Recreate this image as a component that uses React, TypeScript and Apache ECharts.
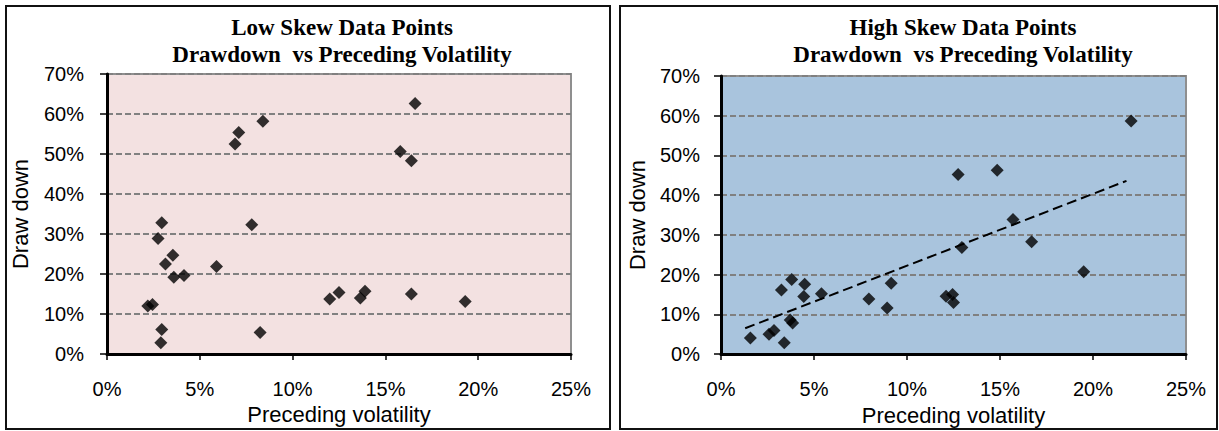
import React, { useEffect, useRef } from "react";
import * as echarts from "echarts";

// Low skew panel: preceding volatility (%) and drawdown (%)
const lowSkewVol = [16.6, 8.4, 7.1, 6.9, 15.8, 16.4, 2.95, 7.8, 2.75, 3.55, 3.15, 5.9, 3.6, 4.15, 2.2, 2.45, 12.0, 12.5, 13.65, 13.9, 16.4, 19.3, 2.95, 2.9, 8.25];
const lowSkewDD = [62.6, 58.2, 55.4, 52.5, 50.6, 48.3, 32.8, 32.3, 28.9, 24.7, 22.5, 21.9, 19.2, 19.6, 12.0, 12.4, 13.75, 15.4, 14.0, 15.7, 15.0, 13.1, 6.1, 2.8, 5.4];

// High skew panel
const highSkewVol = [22.05, 12.75, 14.85, 15.7, 16.7, 12.95, 19.5, 3.8, 3.25, 4.5, 4.45, 5.4, 7.95, 9.15, 8.93, 12.1, 12.45, 12.5, 3.72, 3.85, 1.58, 2.58, 2.85, 3.4];
const highSkewDD = [58.7, 45.2, 46.3, 33.9, 28.3, 26.85, 20.7, 18.75, 16.15, 17.6, 14.5, 15.2, 13.9, 17.85, 11.6, 14.55, 15.0, 13.0, 8.6, 7.8, 4.05, 5.0, 5.95, 2.85];

// Linear trendline endpoints (high skew)
const trendVol = [1.3, 21.8];
const trendDD = [6.5, 43.6];

const titles = [
  "Low Skew Data Points\nDrawdown  vs Preceding Volatility",
  "High Skew Data Points\nDrawdown  vs Preceding Volatility",
];
const xAxisTitle = "Preceding volatility";
const yAxisTitle = "Draw down";

const pct = (v: number) => `${v}%`;

export default function App() {
  const ref = useRef<HTMLDivElement>(null);
  useEffect(() => {
    if (!ref.current) return;
    const chart = echarts.init(ref.current, null, { renderer: "svg" });
    const tickFont = { fontFamily: "Liberation Sans, Arial", fontSize: 20, color: "#000" };
    const nameFont = { fontFamily: "Liberation Sans, Arial", fontSize: 22, color: "#000" };
    const grids = [
      { left: 107, top: 74, width: 464, height: 280, backgroundColor: "#F3E1E1" },
      { left: 721, top: 76, width: 465, height: 280, backgroundColor: "#A9C4DD" },
    ];
    const mkX = (i: number) => ({
      type: "value",
      gridIndex: i,
      min: 0,
      max: 25,
      interval: 5,
      name: xAxisTitle,
      nameLocation: "middle",
      nameGap: 49,
      nameTextStyle: nameFont,
      axisLine: { show: true, onZero: false, lineStyle: { color: "#000", width: 3 } },
      axisTick: { show: true, inside: false, length: 6, lineStyle: { color: "#000", width: 1.5 } },
      axisLabel: { ...tickFont, margin: 25, formatter: pct },
      splitLine: { show: false },
    });
    const mkY = (i: number) => ({
      type: "value",
      gridIndex: i,
      min: 0,
      max: 70,
      interval: 10,
      name: yAxisTitle,
      nameLocation: "middle",
      nameRotate: 90,
      nameGap: i === 0 ? 76 : 73,
      nameTextStyle: nameFont,
      axisLine: { show: true, onZero: false, lineStyle: { color: "#000", width: 3 } },
      axisTick: { show: true, inside: false, length: 7, lineStyle: { color: "#000", width: 1.5 } },
      axisLabel: { ...tickFont, margin: i === 0 ? 23 : 21, formatter: pct },
      splitLine: { show: true, lineStyle: { color: "#808080", width: 2, type: [6, 3] } },
    });
    const lowData = lowSkewVol.map((v, k) => [v, lowSkewDD[k]]);
    const highData = highSkewVol.map((v, k) => [v, highSkewDD[k]]);
    const trendData = trendVol.map((v, k) => [v, trendDD[k]]);
    const titleStyle = { fontFamily: "Liberation Serif, Times New Roman", fontWeight: "bold", fontSize: 23, lineHeight: 27, color: "#000" };
    chart.setOption({
      animation: false,
      title: [
        { text: titles[0], left: 337, top: 9, textAlign: "center", textStyle: titleStyle },
        { text: titles[1], left: 958, top: 9, textAlign: "center", textStyle: titleStyle },
      ],
      grid: grids.map((g) => ({ ...g, show: true, borderColor: "#8f8f8f", borderWidth: 2, containLabel: false })),
      xAxis: [mkX(0), mkX(1)],
      yAxis: [mkY(0), mkY(1)],
      graphic: [
        { type: "rect", shape: { x: 6, y: 6, width: 604, height: 423 }, style: { fill: "none", stroke: "#111", lineWidth: 2 }, z: 100 },
        { type: "rect", shape: { x: 620, y: 6, width: 597, height: 423 }, style: { fill: "none", stroke: "#111", lineWidth: 2 }, z: 100 },
      ],
      series: [
        {
          type: "scatter",
          xAxisIndex: 0,
          yAxisIndex: 0,
          data: lowData,
          symbol: "diamond",
          symbolSize: [13, 13],
          itemStyle: { color: "#000" },
        },
        {
          type: "scatter",
          xAxisIndex: 1,
          yAxisIndex: 1,
          data: highData,
          symbol: "diamond",
          symbolSize: [13, 13],
          itemStyle: { color: "#000" },
        },
        {
          type: "line",
          xAxisIndex: 1,
          yAxisIndex: 1,
          data: trendData,
          showSymbol: false,
          symbol: "none",
          lineStyle: { color: "#000", width: 2, type: [10, 5] },
          z: 1,
        },
      ],
    });
    return () => chart.dispose();
  }, []);
  return <div ref={ref} style={{ position: "absolute", left: 0, top: 0, width: 1219, height: 431 }} />;
}
